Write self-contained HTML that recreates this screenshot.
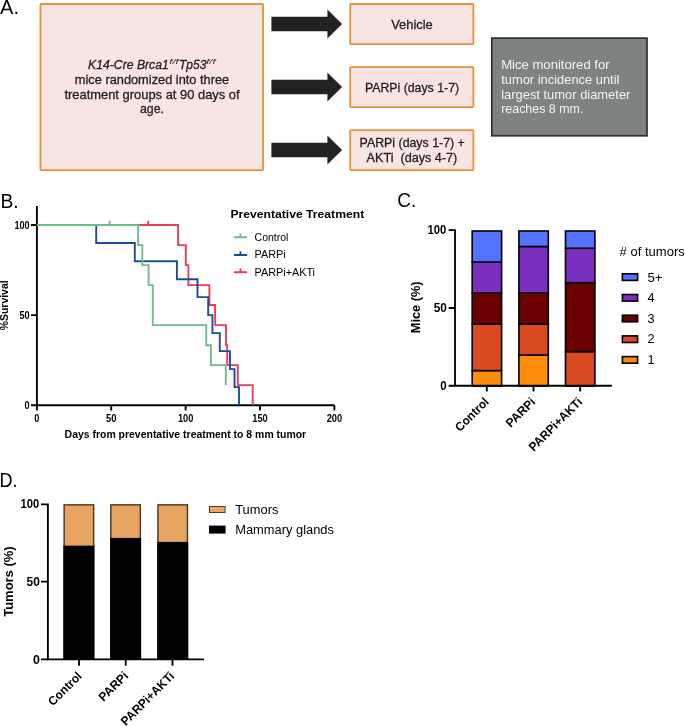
<!DOCTYPE html>
<html><head><meta charset="utf-8"><title>Figure</title>
<style>
html,body{margin:0;padding:0;background:#fff;}
body{width:685px;height:726px;overflow:hidden;}
svg{display:block;will-change:transform;font-family:"Liberation Sans",sans-serif;}
</style></head>
<body>
<svg width="685" height="726" viewBox="0 0 685 726">
<rect x="0" y="0" width="685" height="726" fill="#fff"/>
<text x="0.0" y="14.0" font-size="20" fill="#000" textLength="19.0" lengthAdjust="spacingAndGlyphs">A.</text>
<rect x="40.45" y="4.0" width="222.6" height="166.1" rx="0.8" fill="#f8e4e2" stroke="#e8923c" stroke-width="1.8"/>
<text x="88" y="69" font-size="13" fill="#1e1e1e" stroke="#1e1e1e" stroke-width="0.3" font-style="italic"><tspan textLength="80.8" lengthAdjust="spacingAndGlyphs">K14-Cre Brca1</tspan><tspan x="169.2" y="64.3" font-size="7.8" stroke="none" textLength="9.6" lengthAdjust="spacingAndGlyphs">f/f</tspan><tspan x="179" y="69" textLength="27.4" lengthAdjust="spacingAndGlyphs">Tp53</tspan><tspan x="206.2" y="64.3" font-size="7.8" stroke="none" textLength="9.4" lengthAdjust="spacingAndGlyphs">f/f</tspan></text>
<text x="152" y="83.6" font-size="13.4" fill="#1e1e1e" stroke="#1e1e1e" stroke-width="0.3" text-anchor="middle" textLength="154.4" lengthAdjust="spacingAndGlyphs">mice randomized into three</text>
<text x="152" y="98.5" font-size="13.4" fill="#1e1e1e" stroke="#1e1e1e" stroke-width="0.3" text-anchor="middle" textLength="175.2" lengthAdjust="spacingAndGlyphs">treatment groups at 90 days of</text>
<text x="152" y="113.1" font-size="13.4" fill="#1e1e1e" stroke="#1e1e1e" stroke-width="0.3" text-anchor="middle" textLength="24" lengthAdjust="spacingAndGlyphs">age.</text>
<path fill="#222" d="M271.4 16.8 H327.4 V9.6 L342.1 24 L327.4 38.4 V31.2 H271.4 Z"/>
<path fill="#222" d="M271.4 79.8 H327.4 V72.6 L342.1 87 L327.4 101.4 V94.2 H271.4 Z"/>
<path fill="#222" d="M271.4 142.8 H327.4 V135.6 L342.1 150 L327.4 164.4 V157.2 H271.4 Z"/>
<rect x="350.2" y="4.0" width="123.2" height="40.2" rx="0.8" fill="#f8e4e2" stroke="#e8923c" stroke-width="1.8"/>
<rect x="350.2" y="67.1" width="123.2" height="40.0" rx="0.8" fill="#f8e4e2" stroke="#e8923c" stroke-width="1.8"/>
<rect x="350.2" y="130.1" width="123.2" height="40.0" rx="0.8" fill="#f8e4e2" stroke="#e8923c" stroke-width="1.8"/>
<text x="412" y="28.6" font-size="13.4" fill="#1e1e1e" stroke="#1e1e1e" stroke-width="0.3" text-anchor="middle" textLength="41.6" lengthAdjust="spacingAndGlyphs">Vehicle</text>
<text x="412" y="91.6" font-size="13.4" fill="#1e1e1e" stroke="#1e1e1e" stroke-width="0.3" text-anchor="middle" textLength="94.2" lengthAdjust="spacingAndGlyphs">PARPi (days 1-7)</text>
<text x="412.2" y="147" font-size="13.4" fill="#1e1e1e" stroke="#1e1e1e" stroke-width="0.3" text-anchor="middle" textLength="105.2" lengthAdjust="spacingAndGlyphs">PARPi (days 1-7) +</text>
<text x="411.9" y="161.6" font-size="13.4" fill="#1e1e1e" stroke="#1e1e1e" stroke-width="0.3" text-anchor="middle" textLength="90.6" lengthAdjust="spacingAndGlyphs">AKTi&#160; (days 4-7)</text>
<rect x="491.8" y="38.1" width="155.2" height="97.7" fill="#7e8283" stroke="#2e3030" stroke-width="1.7"/>
<text x="501.2" y="68.8" font-size="13" fill="#f4f4f4" textLength="108.4" lengthAdjust="spacingAndGlyphs">Mice monitored for</text>
<text x="501.2" y="83.8" font-size="13" fill="#f4f4f4" textLength="118.2" lengthAdjust="spacingAndGlyphs">tumor incidence until</text>
<text x="501.2" y="98.8" font-size="13" fill="#f4f4f4" textLength="129.2" lengthAdjust="spacingAndGlyphs">largest tumor diameter</text>
<text x="501.2" y="113.4" font-size="13" fill="#f4f4f4" textLength="82.2" lengthAdjust="spacingAndGlyphs">reaches 8 mm.</text>
<text x="0.4" y="207.5" font-size="20" fill="#000" textLength="18.2" lengthAdjust="spacingAndGlyphs">B.</text>
<g stroke="#000" stroke-width="1.85" fill="none">
<path d="M36.9 206 V405.2 H334.4"/>
<path d="M31 225 H36.9 M31 315.1 H36.9 M31 405.2 H36.9"/>
<path d="M36.9 405.2 V410.6 M111.2 405.2 V410.6 M185.6 405.2 V410.6 M260 405.2 V410.6 M334.4 405.2 V410.6"/>
</g>
<g fill="none" stroke-width="1.9" stroke-linejoin="miter" stroke-linecap="butt">
<path stroke="#ec3d56" d="M36.8 225 H178.1 V245.1 H185.8 V265.1 H188.4 V285.1 H209.4 V305 H215.1 V325.1 H226 V345.2 H227.2 V365.1 H237.8 V385.1 H252.7 V405.2"/>
<path stroke="#ec3d56" d="M148.3 220.8 V225"/>
<path stroke="#1d4c97" d="M36.8 225 H96.2 V243 H134.8 V261.2 H176.9 V279.2 H197.5 V297.1 H208.2 V315.1 H212.4 V333.1 H219.8 V351.1 H230 V369.1 H234.5 V387.1 H239 V405.2"/>
<path stroke="#6dbe8c" d="M36.8 225 H138.1 V245.1 H142.3 V265.1 H148.6 V285.1 H152.8 V325.1 H206.2 V345.2 H210.9 V365.1 H225.8 V385"/>
<path stroke="#6dbe8c" d="M109.6 220.8 V225"/>
</g>
<text x="29.6" y="228.5" font-size="10.2" fill="#000" font-weight="bold" text-anchor="end" textLength="15.2" lengthAdjust="spacingAndGlyphs">100</text>
<text x="29.6" y="318.6" font-size="10.2" fill="#000" font-weight="bold" text-anchor="end" textLength="10.2" lengthAdjust="spacingAndGlyphs">50</text>
<text x="29.6" y="408.8" font-size="10.2" fill="#000" font-weight="bold" text-anchor="end" textLength="5.1" lengthAdjust="spacingAndGlyphs">0</text>
<text x="36.9" y="421.9" font-size="10.2" fill="#000" font-weight="bold" text-anchor="middle" textLength="5.1" lengthAdjust="spacingAndGlyphs">0</text>
<text x="111.2" y="421.9" font-size="10.2" fill="#000" font-weight="bold" text-anchor="middle" textLength="10.4" lengthAdjust="spacingAndGlyphs">50</text>
<text x="185.6" y="421.9" font-size="10.2" fill="#000" font-weight="bold" text-anchor="middle" textLength="15.4" lengthAdjust="spacingAndGlyphs">100</text>
<text x="260" y="421.9" font-size="10.2" fill="#000" font-weight="bold" text-anchor="middle" textLength="15.4" lengthAdjust="spacingAndGlyphs">150</text>
<text x="334.4" y="421.9" font-size="10.2" fill="#000" font-weight="bold" text-anchor="middle" textLength="15.4" lengthAdjust="spacingAndGlyphs">200</text>
<text x="64.6" y="438" font-size="10.6" fill="#000" font-weight="bold" textLength="241.6" lengthAdjust="spacingAndGlyphs">Days from preventative treatment to 8 mm tumor</text>
<text transform="translate(8.2 330.2) rotate(-90)" font-size="10.6" fill="#000" font-weight="bold" textLength="49.8" lengthAdjust="spacingAndGlyphs">%Survival</text>
<text x="230.4" y="218" font-size="11" fill="#000" font-weight="bold" textLength="133.8" lengthAdjust="spacingAndGlyphs">Preventative Treatment</text>
<g fill="none" stroke-width="1.9">
<path stroke="#6dbe8c" d="M233.9 237.3 H247.2 M240.5 233.5 V237.3"/>
<path stroke="#1d4c97" d="M233.9 255 H247.2 M240.5 251.2 V255"/>
<path stroke="#ec3d56" d="M233.9 272.2 H247.2 M240.5 268.4 V272.2"/>
</g>
<text x="254.6" y="240.6" font-size="10.4" fill="#000" textLength="33.8" lengthAdjust="spacingAndGlyphs">Control</text>
<text x="254.6" y="258.2" font-size="10.4" fill="#000" textLength="31.2" lengthAdjust="spacingAndGlyphs">PARPi</text>
<text x="254.6" y="275.8" font-size="10.4" fill="#000" textLength="60.4" lengthAdjust="spacingAndGlyphs">PARPi+AKTi</text>
<text x="397.2" y="207.4" font-size="20" fill="#000" textLength="19.0" lengthAdjust="spacingAndGlyphs">C.</text>
<g stroke="#000" stroke-width="1.6">
<rect x="472.2" y="370.59" width="29.4" height="15.51" fill="#ff8c0a"/>
<rect x="472.2" y="324.06" width="29.4" height="46.53" fill="#d84a22"/>
<rect x="472.2" y="293.04" width="29.4" height="31.02" fill="#6b0000"/>
<rect x="472.2" y="262.02" width="29.4" height="31.02" fill="#7b2fbe"/>
<rect x="472.2" y="231.00" width="29.4" height="31.02" fill="#5571ff"/>
<rect x="518.9" y="355.08" width="29.4" height="31.02" fill="#ff8c0a"/>
<rect x="518.9" y="324.06" width="29.4" height="31.02" fill="#d84a22"/>
<rect x="518.9" y="293.04" width="29.4" height="31.02" fill="#6b0000"/>
<rect x="518.9" y="246.51" width="29.4" height="46.53" fill="#7b2fbe"/>
<rect x="518.9" y="231.00" width="29.4" height="15.51" fill="#5571ff"/>
<rect x="565.5" y="351.64" width="29.4" height="34.46" fill="#d84a22"/>
<rect x="565.5" y="282.69" width="29.4" height="68.94" fill="#6b0000"/>
<rect x="565.5" y="248.23" width="29.4" height="34.46" fill="#7b2fbe"/>
<rect x="565.5" y="231.00" width="29.4" height="17.23" fill="#5571ff"/>
</g>
<g stroke="#000" stroke-width="1.85" fill="none">
<path d="M448.6 230.1 H455 V385.7 H611.8"/>
<path d="M448.6 308 H455 M448.6 385.7 H455"/>
<path d="M486.8 385.9 V391.6 M533.5 385.9 V391.6 M580.2 385.9 V391.6"/>
</g>
<text x="446.4" y="234.3" font-size="12.2" fill="#000" font-weight="bold" text-anchor="end" textLength="18.8" lengthAdjust="spacingAndGlyphs">100</text>
<text x="446.9" y="312.3" font-size="12.2" fill="#000" font-weight="bold" text-anchor="end" textLength="13.2" lengthAdjust="spacingAndGlyphs">50</text>
<text x="446.6" y="390.2" font-size="12.2" fill="#000" font-weight="bold" text-anchor="end" textLength="6.4" lengthAdjust="spacingAndGlyphs">0</text>
<text transform="translate(419.8 307.3) rotate(-90)" font-size="12.6" fill="#000" font-weight="bold" text-anchor="middle" textLength="51.8" lengthAdjust="spacingAndGlyphs">Mice (%)</text>
<text transform="translate(489.6 402.6) rotate(-45)" font-size="12.3" fill="#000" font-weight="bold" text-anchor="end" textLength="42.0" lengthAdjust="spacingAndGlyphs">Control</text>
<text transform="translate(536.2 402.6) rotate(-45)" font-size="12.3" fill="#000" font-weight="bold" text-anchor="end" textLength="36.0" lengthAdjust="spacingAndGlyphs">PARPi</text>
<text transform="translate(583.0 402.6) rotate(-45)" font-size="12.3" fill="#000" font-weight="bold" text-anchor="end" textLength="69.8" lengthAdjust="spacingAndGlyphs">PARPi+AKTi</text>
<text x="619.6" y="256.0" font-size="12.7" fill="#000" textLength="65.2" lengthAdjust="spacingAndGlyphs"># of tumors</text>
<g stroke="#000" stroke-width="1.6">
<rect x="622.4" y="273.8" width="15.2" height="6.6" fill="#5571ff"/>
<rect x="622.4" y="294.5" width="15.2" height="6.6" fill="#7b2fbe"/>
<rect x="622.4" y="315.2" width="15.2" height="6.6" fill="#6b0000"/>
<rect x="622.4" y="335.9" width="15.2" height="6.6" fill="#d84a22"/>
<rect x="622.4" y="356.6" width="15.2" height="6.6" fill="#ff8c0a"/>
</g>
<text x="647.4" y="281.5" font-size="12.7" fill="#000" textLength="15.0" lengthAdjust="spacingAndGlyphs">5+</text>
<text x="647.4" y="302.1" font-size="12.7" fill="#000">4</text>
<text x="647.4" y="322.7" font-size="12.7" fill="#000">3</text>
<text x="647.4" y="343.4" font-size="12.7" fill="#000">2</text>
<text x="647.4" y="364.0" font-size="12.7" fill="#000">1</text>
<text x="-0.4" y="486.9" font-size="20" fill="#000" textLength="18.0" lengthAdjust="spacingAndGlyphs">D.</text>
<rect x="64.15" y="504.85" width="29.5" height="153.50" fill="#e8a561" stroke="#4d3c27" stroke-width="1.5"/>
<rect x="63.4" y="545.63" width="31" height="113.77" fill="#000"/>
<rect x="110.85" y="504.85" width="29.5" height="153.50" fill="#e8a561" stroke="#4d3c27" stroke-width="1.5"/>
<rect x="110.1" y="537.88" width="31" height="121.52" fill="#000"/>
<rect x="157.95" y="504.85" width="29.5" height="153.50" fill="#e8a561" stroke="#4d3c27" stroke-width="1.5"/>
<rect x="157.2" y="541.91" width="31" height="117.49" fill="#000"/>
<g stroke="#000" stroke-width="1.85" fill="none">
<path d="M41 504.4 H47.9 V659.3 H204"/>
<path d="M41 581.6 H47.9 M41 659.3 H47.9"/>
<path d="M79 659.3 V665.8 M125.7 659.3 V665.8 M172.5 659.3 V665.8"/>
</g>
<text x="39.3" y="507.9" font-size="11.9" fill="#000" font-weight="bold" text-anchor="end" textLength="18.8" lengthAdjust="spacingAndGlyphs">100</text>
<text x="39.8" y="586.1" font-size="11.9" fill="#000" font-weight="bold" text-anchor="end" textLength="13.3" lengthAdjust="spacingAndGlyphs">50</text>
<text x="39.8" y="663.9" font-size="11.9" fill="#000" font-weight="bold" text-anchor="end" textLength="6.9" lengthAdjust="spacingAndGlyphs">0</text>
<text transform="translate(13.0 581.6) rotate(-90)" font-size="12.7" fill="#000" font-weight="bold" text-anchor="middle" textLength="70.4" lengthAdjust="spacingAndGlyphs">Tumors (%)</text>
<text transform="translate(82.6 676.8) rotate(-45)" font-size="12.3" fill="#000" font-weight="bold" text-anchor="end" textLength="42.0" lengthAdjust="spacingAndGlyphs">Control</text>
<text transform="translate(129.0 676.6) rotate(-45)" font-size="12.3" fill="#000" font-weight="bold" text-anchor="end" textLength="36.0" lengthAdjust="spacingAndGlyphs">PARPi</text>
<text transform="translate(175.2 676.8) rotate(-45)" font-size="12.3" fill="#000" font-weight="bold" text-anchor="end" textLength="69.8" lengthAdjust="spacingAndGlyphs">PARPi+AKTi</text>
<rect x="209.5" y="506.5" width="15.6" height="6" fill="#e8a561" stroke="#4d3c27" stroke-width="1"/>
<rect x="209" y="525.6" width="16.6" height="8" fill="#000"/>
<text x="235.2" y="513.6" font-size="12.7" fill="#000" textLength="43.2" lengthAdjust="spacingAndGlyphs">Tumors</text>
<text x="235.2" y="534" font-size="12.7" fill="#000" textLength="98.8" lengthAdjust="spacingAndGlyphs">Mammary glands</text>
</svg>
</body></html>
